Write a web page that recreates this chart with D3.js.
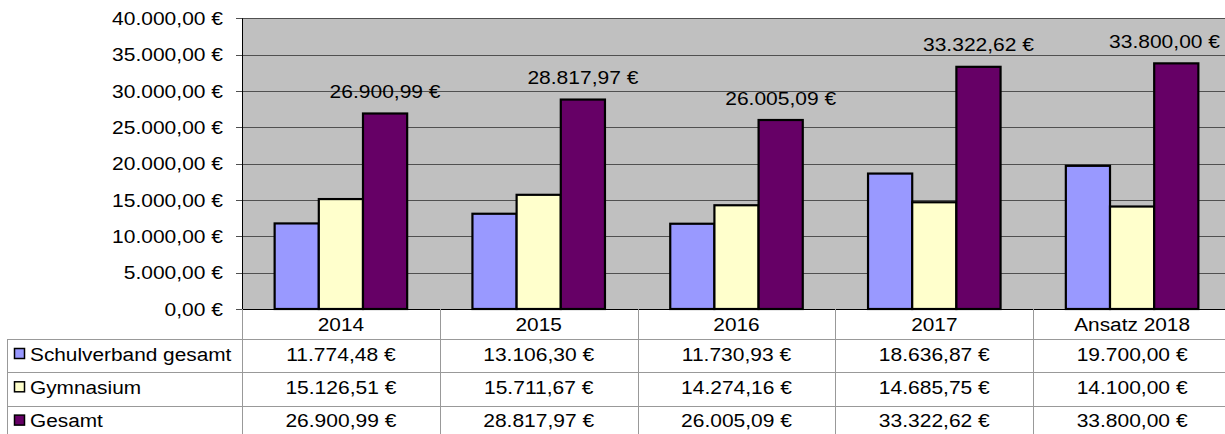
<!DOCTYPE html>
<html>
<head>
<meta charset="utf-8">
<script src="https://cdn.jsdelivr.net/npm/d3@7"></script>
<style>
  body { margin: 0; background: #fff; }
  text { font-family: "Liberation Sans", Arial, sans-serif; font-size: 18.6px; fill: #000; }
</style>
</head>
<body>
<div id="chart"></div>
<script>
// values from the table under the chart
var categories = ["2014", "2015", "2016", "2017", "Ansatz 2018"];
var seriesNames = ["Schulverband gesamt", "Gymnasium", "Gesamt"];
var schulverband = [11774.48, 13106.30, 11730.93, 18636.87, 19700.00];
var gymnasium = [15126.51, 15711.67, 14274.16, 14685.75, 14100.00];
var gesamt = [26900.99, 28817.97, 26005.09, 33322.62, 33800.00];
var yTicks = [0, 5000, 10000, 15000, 20000, 25000, 30000, 35000, 40000];

var seriesValues = [schulverband, gymnasium, gesamt];
var colors = ["#9999ff", "#ffffcc", "#660066"];

var W = 1225, H = 434;
var plotLeft = 242, plotTop = 18.3, plotBottom = 309;
var step = 197.8;
var plotRight = plotLeft + categories.length * step;
var tableLeft = 7;
var headerH = 30, rowH = 33.3;

// the original text is drawn a little wider than Arial
var kWord = 1.12, kMoney = 1.13;

var de = d3.formatLocale({decimal: ",", thousands: ".", grouping: [3], currency: ["", " €"]});
var money = de.format("$,.2f");

var svg = d3.select("#chart").append("svg")
  .attr("width", W)
  .attr("height", H);

var x = d3.scaleBand()
  .domain(categories)
  .range([plotLeft, plotRight])
  .paddingInner(0.33)
  .paddingOuter(0.165);

var xs = d3.scaleBand()
  .domain(seriesNames)
  .range([0, x.bandwidth()]);

var y = d3.scaleLinear()
  .domain([0, 40000])
  .range([plotBottom, plotTop]);

function label(sel, px, py, str, anchor, k) {
  return sel.append("text")
    .attr("transform", "translate(" + px + "," + py + ") scale(" + k + ",1)")
    .attr("text-anchor", anchor)
    .text(str);
}

// plot area
svg.append("rect")
  .attr("x", plotLeft).attr("y", y(40000))
  .attr("width", plotRight - plotLeft).attr("height", plotBottom - y(40000))
  .attr("fill", "#c0c0c0");

// grid + ticks + tick labels
yTicks.forEach(function(t) {
  var ty = Math.round(y(t)) + 0.5;
  if (t > 0) {
    svg.append("line")
      .attr("x1", plotLeft).attr("x2", plotRight)
      .attr("y1", ty).attr("y2", ty)
      .attr("stroke", "#505050").attr("stroke-width", 1);
  }
  svg.append("line")
    .attr("x1", plotLeft - 6).attr("x2", plotLeft)
    .attr("y1", ty).attr("y2", ty)
    .attr("stroke", "#505050").attr("stroke-width", 1);
  label(svg, 223, y(t) + 6.7, money(t), "end", kMoney);
});

// bars
seriesValues.forEach(function(vals, s) {
  svg.append("g").selectAll("rect")
    .data(vals)
    .join("rect")
      .attr("x", function(d, i) { return x(categories[i]) + xs(seriesNames[s]); })
      .attr("y", function(d) { return y(d); })
      .attr("width", xs.bandwidth())
      .attr("height", function(d) { return y(0) - y(d); })
      .attr("fill", colors[s])
      .attr("stroke", "#000")
      .attr("stroke-width", 2.2);
});

// axis lines
svg.append("line")
  .attr("x1", plotLeft + 0.5).attr("x2", plotLeft + 0.5)
  .attr("y1", y(40000)).attr("y2", plotBottom)
  .attr("stroke", "#000");
svg.append("line")
  .attr("x1", plotLeft).attr("x2", plotRight)
  .attr("y1", plotBottom + 0.5).attr("y2", plotBottom + 0.5)
  .attr("stroke", "#000");

// labels over the Gesamt bars
gesamt.forEach(function(v, i) {
  var cx = x(categories[i]) + xs("Gesamt") + xs.bandwidth() / 2;
  var ly = y(v) - 15.5;
  var t = label(svg, cx, ly, money(v), "middle", kMoney);
  var half = t.node().getComputedTextLength() * kMoney / 2;
  if (cx + half > W - 5) {
    cx = W - 5 - half;
    t.attr("transform", "translate(" + cx + "," + ly + ") scale(" + kMoney + ",1)");
  }
});

// data table
var table = svg.append("g");
var lineCol = "#999";
var rowTop = function(r) { return plotBottom + headerH + r * rowH; };

for (var i = 0; i <= categories.length; i++) {
  var vx = Math.round(plotLeft + i * step) + 0.5;
  table.append("line")
    .attr("x1", vx).attr("x2", vx)
    .attr("y1", plotBottom).attr("y2", H)
    .attr("stroke", lineCol);
}
table.append("line")
  .attr("x1", tableLeft + 0.5).attr("x2", tableLeft + 0.5)
  .attr("y1", rowTop(0)).attr("y2", H)
  .attr("stroke", lineCol);
for (var r = 0; r <= seriesNames.length; r++) {
  var hy = Math.round(rowTop(r)) + 0.5;
  table.append("line")
    .attr("x1", tableLeft).attr("x2", plotRight)
    .attr("y1", hy).attr("y2", hy)
    .attr("stroke", lineCol);
}

categories.forEach(function(c, i) {
  label(table, plotLeft + (i + 0.5) * step, plotBottom + 22, c, "middle", kWord);
});

seriesNames.forEach(function(name, s) {
  var ry = rowTop(s);
  table.append("rect")
    .attr("x", 14.5).attr("y", ry + 9.5)
    .attr("width", 10).attr("height", 10)
    .attr("fill", colors[s])
    .attr("stroke", "#000")
    .attr("stroke-width", 1.5);
  label(table, 30, ry + 21.7, name, "start", kWord);
  seriesValues[s].forEach(function(v, i) {
    label(table, plotLeft + (i + 0.5) * step, ry + 21.7, money(v), "middle", kMoney);
  });
});
</script>
</body>
</html>
